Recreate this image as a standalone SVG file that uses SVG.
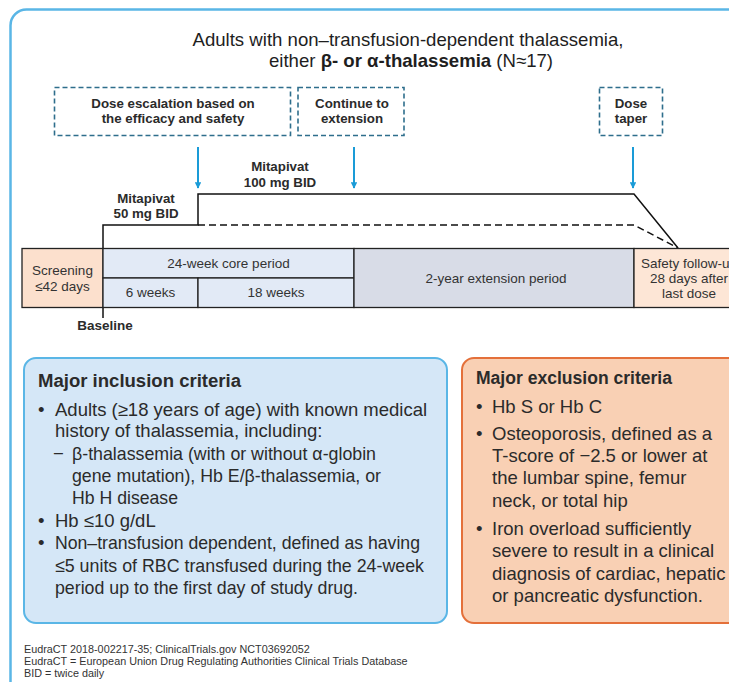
<svg xmlns="http://www.w3.org/2000/svg" width="729" height="682" viewBox="0 0 729 682">
<style>
text{font-family:"Liberation Sans",Arial,sans-serif;fill:#2b2b2b}
.title{font-size:18.6px;text-anchor:middle;fill:#1e1e1e}
.dash{fill:#fff;stroke:#2e6e8c;stroke-width:1.6;stroke-dasharray:5 3}
.bt{font-size:13.3px;font-weight:bold;text-anchor:middle}
.cell{stroke:#222;stroke-width:1.3}
.ct{font-size:13.5px;text-anchor:middle;fill:#333}
.arrow{stroke:#1a9bd7;stroke-width:2;fill:none;marker-end:url(#ah)}
.dose{stroke:#111;stroke-width:1.5;fill:none}
.body{font-size:18.5px}
.hd{font-size:18.3px;font-weight:bold}
.ft{font-size:10.8px;fill:#333}
</style>
<defs>
<marker id="ah" viewBox="0 0 10 10" refX="9" refY="5" markerWidth="3.2" markerHeight="3.2" orient="auto" markerUnits="strokeWidth">
<path d="M0,0 L10,5 L0,10 z" fill="#1a9bd7"/>
</marker>
</defs>
<rect width="729" height="682" fill="#fff"/>
<g id="frame">
<rect x="10.5" y="9.5" width="760" height="720" rx="16" fill="none" stroke="#5ab6e6" stroke-width="2.5"/>
</g>
<g id="title">
<text class="title" x="408" y="46">Adults with non–transfusion-dependent thalassemia,</text>
<text class="title" x="411" y="67">either <tspan font-weight="bold">β- or α-thalassemia</tspan> (N≈17)</text>
</g>
<g id="box-dose-escalation">
<rect class="dash" x="54.5" y="87.5" width="236" height="48"/>
<text class="bt" x="173" y="108">Dose escalation based on</text>
<text class="bt" x="173" y="123">the efficacy and safety</text>
</g>
<g id="box-continue">
<rect class="dash" x="298" y="87.5" width="106" height="48"/>
<text class="bt" x="352" y="108">Continue to</text>
<text class="bt" x="352" y="123">extension</text>
</g>
<g id="box-dose-taper">
<rect class="dash" x="599.5" y="87.5" width="63" height="48"/>
<text class="bt" x="631" y="108">Dose</text>
<text class="bt" x="631" y="123">taper</text>
</g>
<g id="label-100">
<text class="bt" x="280" y="171">Mitapivat</text>
<text class="bt" x="280" y="187">100 mg BID</text>
</g>
<g id="label-50">
<text class="bt" x="146" y="203">Mitapivat</text>
<text class="bt" x="146" y="218">50 mg BID</text>
</g>
<g id="connectors">
<line class="arrow" x1="198" y1="147" x2="198" y2="188"/>
<line class="arrow" x1="354" y1="147" x2="354" y2="188"/>
<line class="arrow" x1="633" y1="147" x2="633" y2="188"/>
<polyline class="dose" points="103,248 103,225 198,225 198,194 634,194 678,248"/>
<polyline class="dose" points="198,225 634,225 678,248" stroke-dasharray="7 4"/>
<line class="dose" x1="103" y1="248" x2="103" y2="318"/>
</g>
<g id="timeline">
<rect class="cell" x="22" y="248.5" width="81" height="59" fill="#fce0cd"/>
<text class="ct" x="62.5" y="275">Screening</text>
<text class="ct" x="62.5" y="291">≤42 days</text>
<rect class="cell" x="103" y="248.5" width="251" height="29.5" fill="#e2eaf6"/>
<text class="ct" x="228.5" y="268">24-week core period</text>
<rect class="cell" x="103" y="278" width="95" height="29.5" fill="#e2eaf6"/>
<text class="ct" x="150.5" y="297">6 weeks</text>
<rect class="cell" x="198" y="278" width="156" height="29.5" fill="#e2eaf6"/>
<text class="ct" x="276" y="297">18 weeks</text>
<rect class="cell" x="354" y="248.5" width="280" height="59" fill="#d8dce7"/>
<text class="ct" x="496" y="283">2-year extension period</text>
<rect class="cell" x="634" y="248.5" width="110" height="59" fill="#fde6d6"/>
<text class="ct" x="689" y="268">Safety follow-up</text>
<text class="ct" x="689" y="283">28 days after</text>
<text class="ct" x="689" y="298">last dose</text>
</g>
<g id="baseline">
<text x="105" y="330" font-size="13.5" font-weight="bold" text-anchor="middle">Baseline</text>
</g>
<g id="inclusion">
<rect x="24" y="358" width="423" height="265" rx="12" fill="#d5e7f7" stroke="#5ab6e6" stroke-width="2"/>
<text class="hd" x="38" y="387" textLength="203" lengthAdjust="spacingAndGlyphs">Major inclusion criteria</text>
<text class="body" x="38" y="416">•</text>
<text class="body" x="55" y="416">Adults (≥18 years of age) with known medical</text>
<text class="body" x="55" y="437">history of thalassemia, including:</text>
<text class="body" x="53" y="460">−</text>
<text class="body" x="72" y="460" textLength="304" lengthAdjust="spacingAndGlyphs">β-thalassemia (with or without α-globin</text>
<text class="body" x="72" y="482" textLength="309" lengthAdjust="spacingAndGlyphs">gene mutation), Hb E/β-thalassemia, or</text>
<text class="body" x="72" y="504" textLength="106" lengthAdjust="spacingAndGlyphs">Hb H disease</text>
<text class="body" x="38" y="527">•</text>
<text class="body" x="55" y="527">Hb ≤10 g/dL</text>
<text class="body" x="38" y="549">•</text>
<text class="body" x="55" y="549" textLength="365" lengthAdjust="spacingAndGlyphs">Non–transfusion dependent, defined as having</text>
<text class="body" x="55" y="572" textLength="369" lengthAdjust="spacingAndGlyphs">≤5 units of RBC transfused during the 24-week</text>
<text class="body" x="55" y="594" textLength="303" lengthAdjust="spacingAndGlyphs">period up to the first day of study drug.</text>
</g>
<g id="exclusion">
<rect x="462" y="358" width="290" height="265" rx="12" fill="#f9d0b4" stroke="#e4703a" stroke-width="2"/>
<text class="hd" x="476" y="384" textLength="196" lengthAdjust="spacingAndGlyphs">Major exclusion criteria</text>
<text class="body" x="476" y="413">•</text>
<text class="body" x="492" y="413">Hb S or Hb C</text>
<text class="body" x="476" y="440">•</text>
<text class="body" x="492" y="440">Osteoporosis, defined as a</text>
<text class="body" x="492" y="462">T-score of −2.5 or lower at</text>
<text class="body" x="492" y="484">the lumbar spine, femur</text>
<text class="body" x="492" y="507">neck, or total hip</text>
<text class="body" x="476" y="535">•</text>
<text class="body" x="492" y="535">Iron overload sufficiently</text>
<text class="body" x="492" y="557">severe to result in a clinical</text>
<text class="body" x="492" y="580">diagnosis of cardiac, hepatic</text>
<text class="body" x="492" y="602">or pancreatic dysfunction.</text>
</g>
<g id="footer">
<text class="ft" x="24" y="653">EudraCT 2018-002217-35; ClinicalTrials.gov NCT03692052</text>
<text class="ft" x="24" y="665">EudraCT = European Union Drug Regulating Authorities Clinical Trials Database</text>
<text class="ft" x="24" y="677">BID = twice daily</text>
</g>
</svg>
